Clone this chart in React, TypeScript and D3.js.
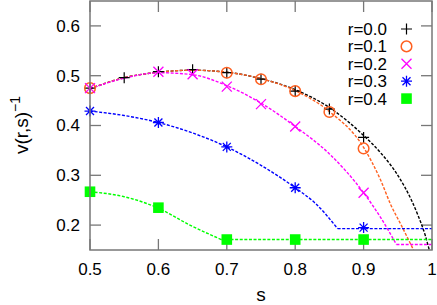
import React from 'react';
import * as d3 from 'd3';

const W = 437;
const H = 305;
const margin = { left: 90, right: 5, top: 1, bottom: 55 };

const xTicks = [0.5, 0.6, 0.7, 0.8, 0.9, 1.0];
const xTickLabels = ['0.5', '0.6', '0.7', '0.8', '0.9', '1'];
const yTicks = [0.2, 0.3, 0.4, 0.5, 0.6];
const yTickLabels = ['0.2', '0.3', '0.4', '0.5', '0.6'];

const seriesNames = ['r=0.0', 'r=0.1', 'r=0.2', 'r=0.3', 'r=0.4'];
const seriesColors = ['#000000', '#ff6020', '#ff00ff', '#0000ff', '#00ff00'];
const seriesMarkers = ['plus', 'circle', 'cross', 'star', 'square'];

// measured points
const sR0 = [0.5, 0.55, 0.6, 0.65, 0.7, 0.75, 0.8, 0.85, 0.9];
const vR0 = [0.475, 0.496, 0.508, 0.512, 0.506, 0.493, 0.469, 0.433, 0.376];
const sR1 = [0.5, 0.7, 0.75, 0.8, 0.85, 0.9];
const vR1 = [0.475, 0.506, 0.493, 0.469, 0.427, 0.354];
const sR2 = [0.5, 0.6, 0.65, 0.7, 0.75, 0.8, 0.9];
const vR2 = [0.475, 0.508, 0.503, 0.478, 0.443, 0.398, 0.265];
const sR3 = [0.5, 0.6, 0.7, 0.8, 0.9];
const vR3 = [0.429, 0.406, 0.357, 0.275, 0.195];
const sR4 = [0.5, 0.6, 0.7, 0.8, 0.9];
const vR4 = [0.267, 0.235, 0.171, 0.171, 0.171];

// fitted curves, then the flat floor after the knee
const fitS0 = [0.5, 0.55, 0.6, 0.65, 0.7, 0.75, 0.8, 0.85, 0.9, 0.925, 0.95, 0.97, 0.98, 0.99, 0.996];
const fitV0 = [0.474, 0.496, 0.507, 0.511, 0.507, 0.494, 0.472, 0.436, 0.38, 0.345, 0.3, 0.25, 0.218, 0.18, 0.15];
const fitS1 = [0.5, 0.55, 0.6, 0.65, 0.7, 0.75, 0.8, 0.85, 0.9, 0.925, 0.94, 0.955, 0.973];
const fitV1 = [0.474, 0.496, 0.507, 0.511, 0.507, 0.494, 0.47, 0.428, 0.356, 0.29, 0.24, 0.2, 0.15];
const fitS2 = [0.5, 0.55, 0.6, 0.65, 0.7, 0.75, 0.8, 0.85, 0.9, 0.925, 0.948];
const fitV2 = [0.474, 0.495, 0.506, 0.502, 0.48, 0.445, 0.398, 0.343, 0.265, 0.215, 0.161];
const fitS3 = [0.5, 0.55, 0.6, 0.65, 0.7, 0.75, 0.8, 0.83, 0.862];
const fitV3 = [0.429, 0.42, 0.406, 0.385, 0.357, 0.32, 0.275, 0.243, 0.193];
const fitS4 = [0.5, 0.55, 0.6, 0.646, 0.692];
const fitV4 = [0.267, 0.257, 0.234, 0.2, 0.171];
const floorV = [null, null, 0.161, 0.193, 0.171];

const pointS = [sR0, sR1, sR2, sR3, sR4];
const pointV = [vR0, vR1, vR2, vR3, vR4];
const fitS = [fitS0, fitS1, fitS2, fitS3, fitS4];
const fitV = [fitV0, fitV1, fitV2, fitV3, fitV4];

function marker(kind: string, x: number, y: number, color: string, key: string) {
  const a = 5.5;
  const b = 5;
  if (kind === 'plus') {
    return <path key={key} d={`M${x - a},${y}H${x + a}M${x},${y - a}V${y + a}`} stroke={color} strokeWidth={1.2} fill="none" />;
  }
  if (kind === 'circle') {
    return <circle key={key} cx={x} cy={y} r={5.3} stroke={color} strokeWidth={1.5} fill="none" />;
  }
  if (kind === 'cross') {
    return <path key={key} d={`M${x - b},${y - b}L${x + b},${y + b}M${x - b},${y + b}L${x + b},${y - b}`} stroke={color} strokeWidth={1.3} fill="none" />;
  }
  if (kind === 'star') {
    return (
      <path key={key}
        d={`M${x - a},${y}H${x + a}M${x},${y - a}V${y + a}M${x - 4},${y - 4}L${x + 4},${y + 4}M${x - 4},${y + 4}L${x + 4},${y - 4}`}
        stroke={color} strokeWidth={1.3} fill="none" />
    );
  }
  return <rect key={key} x={x - 5.3} y={y - 5.3} width={10.6} height={10.6} fill={color} />;
}

export default function App() {
  const x = d3.scaleLinear().domain([0.5, 1.0]).range([margin.left, W - margin.right]);
  const y = d3.scaleLinear().domain([0.15, 0.65]).range([H - margin.bottom, margin.top]);
  const x0 = x(0.5), x1 = x(1.0), y0 = y(0.15), y1 = y(0.65);

  const curve = d3.line<[number, number]>().x(d => x(d[0])).y(d => y(d[1])).curve(d3.curveMonotoneX);
  const flat = d3.line<[number, number]>().x(d => x(d[0])).y(d => y(d[1]));

  const font = "'Liberation Sans', Arial, Helvetica, sans-serif";
  const frame = '#777777';
  const tickLen = 11;

  return (
    <svg width={W} height={H} style={{ position: 'absolute', left: 0, top: 0, background: '#fff' }} fontFamily={font}>
      <defs>
        <clipPath id="plotArea">
          <rect x={x0} y={y1} width={x1 - x0} height={y0 - y1} />
        </clipPath>
      </defs>

      {/* ticks on all four sides */}
      {xTicks.map((t, i) => (
        <g key={'xt' + i}>
          <line x1={x(t)} x2={x(t)} y1={y0} y2={y0 - tickLen} stroke={frame} strokeWidth={1.3} />
          <line x1={x(t)} x2={x(t)} y1={y1} y2={y1 + tickLen} stroke={frame} strokeWidth={1.3} />
          <text x={x(t)} y={y0 + 25} textAnchor="middle" fontSize={17} fill="#000">{xTickLabels[i]}</text>
        </g>
      ))}
      {yTicks.map((t, i) => (
        <g key={'yt' + i}>
          <line x1={x0} x2={x0 + tickLen} y1={y(t)} y2={y(t)} stroke={frame} strokeWidth={1.3} />
          <line x1={x1} x2={x1 - tickLen} y1={y(t)} y2={y(t)} stroke={frame} strokeWidth={1.3} />
          <text x={x0 - 10} y={y(t)} dy="0.35em" textAnchor="end" fontSize={17} fill="#000">{yTickLabels[i]}</text>
        </g>
      ))}

      {/* fitted curves */}
      <g clipPath="url(#plotArea)" fill="none" strokeWidth={1.4} strokeDasharray="3,1.6">
        {fitS.map((ss, i) => {
          const pts = ss.map((s, j) => [s, fitV[i][j]] as [number, number]);
          const fv = floorV[i];
          return (
            <g key={'fit' + i} stroke={seriesColors[i]}>
              <path d={curve(pts) || ''} />
              {fv !== null && (
                <path d={flat([[ss[ss.length - 1], fv], [1.0, fv]]) || ''} />
              )}
            </g>
          );
        })}
      </g>

      {/* data points */}
      {pointS.map((ss, i) => (
        <g key={'pts' + i}>
          {ss.map((s, j) => marker(seriesMarkers[i], x(s), y(pointV[i][j]), seriesColors[i], 'p' + i + '_' + j))}
        </g>
      ))}

      {/* legend */}
      {seriesNames.map((name, i) => {
        const ly = 29 + i * 17.4;
        return (
          <g key={'lg' + i}>
            <text x={387} y={ly} dy="0.35em" textAnchor="end" fontSize={17} fill="#000">{name}</text>
            {marker(seriesMarkers[i], 406.5, ly, seriesColors[i], 'lm' + i)}
          </g>
        );
      })}

      {/* frame */}
      <rect x={x0} y={y1} width={x1 - x0} height={y0 - y1} fill="none" stroke={frame} strokeWidth={1.5} />

      {/* axis labels */}
      <text x={(x0 + x1) / 2 + 0} y={301} textAnchor="middle" fontSize={19} fill="#000">s</text>
      <text transform="translate(28,125) rotate(-90)" textAnchor="middle" fontSize={19} fill="#000">
        v(r,s)<tspan dy={-8} fontSize={14}>−1</tspan>
      </text>
    </svg>
  );
}
